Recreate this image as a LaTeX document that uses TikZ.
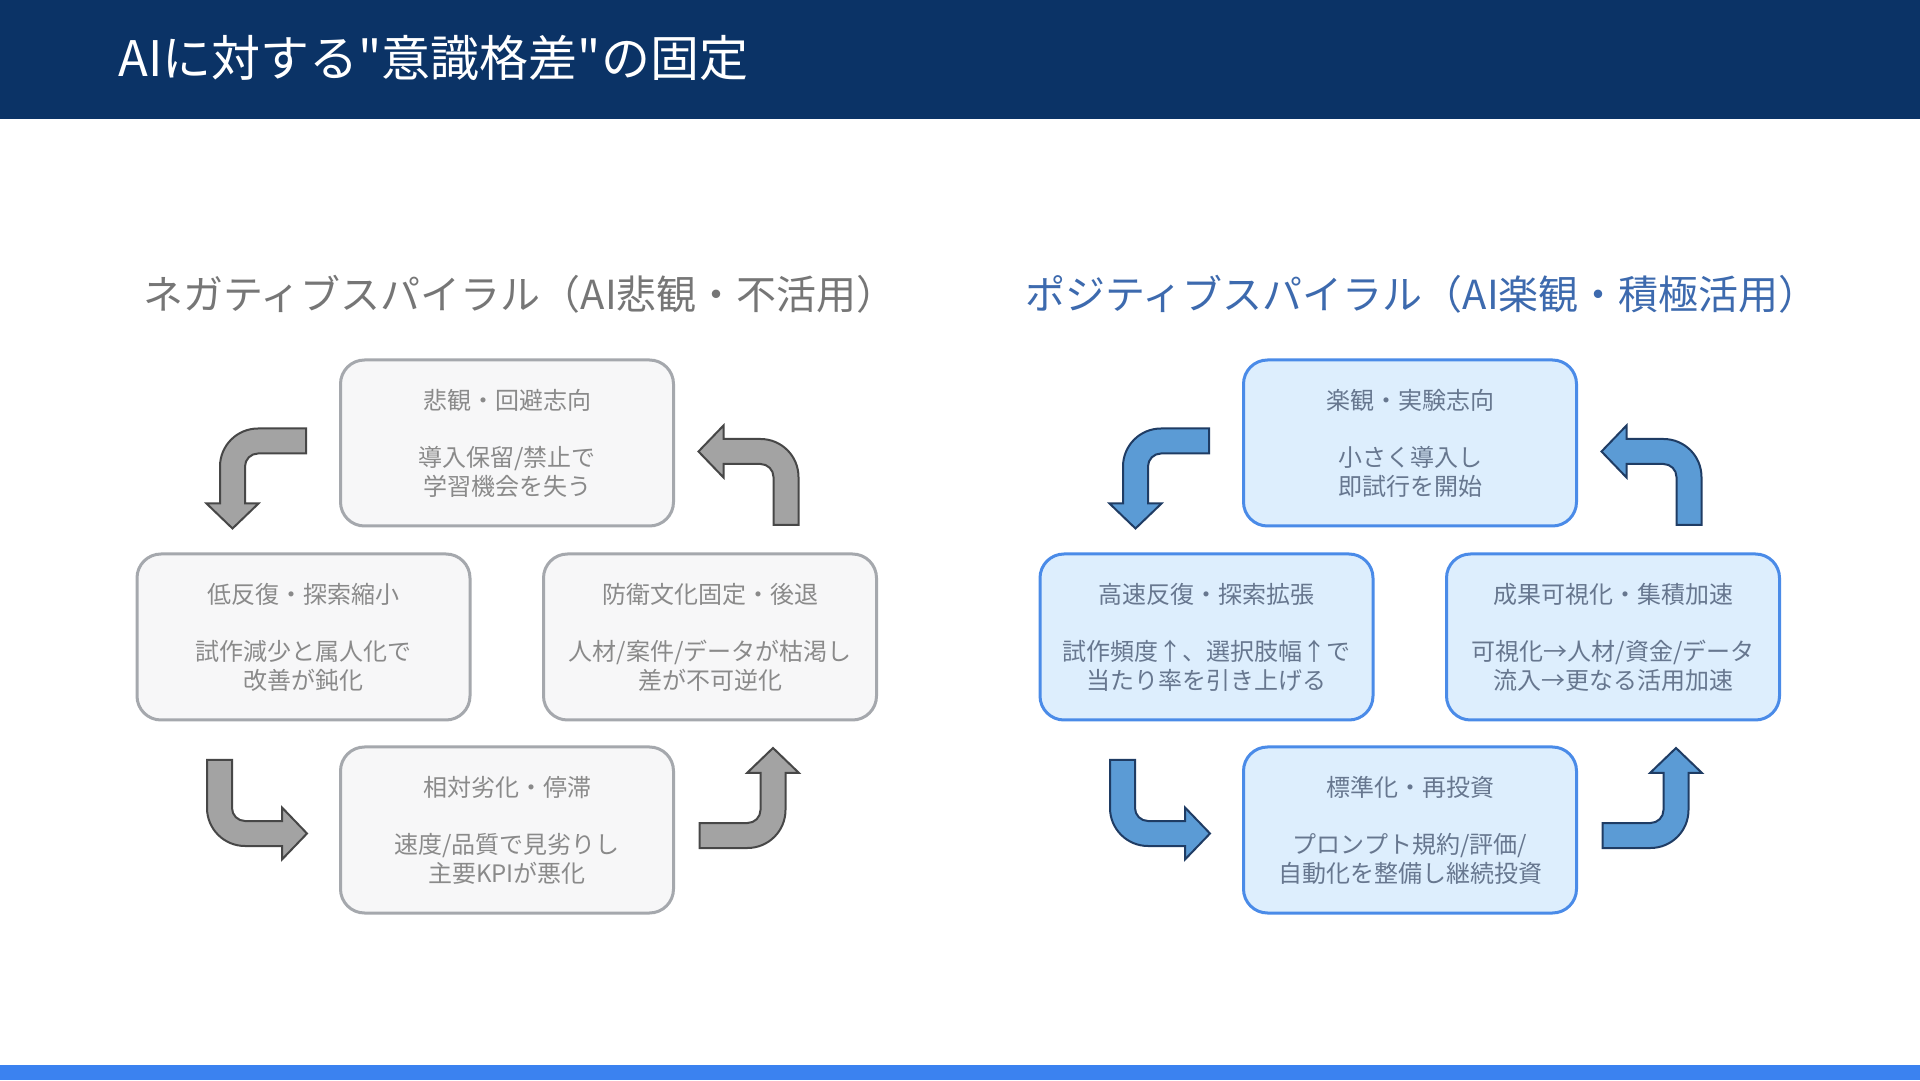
\documentclass[tikz,border=0pt]{standalone}
\usepackage{fontspec}
\setmainfont{Noto Sans CJK JP}
\newfontfamily\titlefont{Noto Sans CJK JP}[Ligatures=TeXOff]
\usetikzlibrary{calc}
\definecolor{headnavy}{HTML}{0B3366}
\definecolor{barblue}{HTML}{3B82F0}
\definecolor{negline}{HTML}{A5A8AD}
\definecolor{negfill}{HTML}{F7F7F8}
\definecolor{negtext}{HTML}{8A8A8A}
\definecolor{neghead}{HTML}{767676}
\definecolor{negarrowfill}{HTML}{A3A3A3}
\definecolor{negarrowline}{HTML}{474747}
\definecolor{posline}{HTML}{4A8BE8}
\definecolor{posfill}{HTML}{DDEEFD}
\definecolor{postext}{HTML}{67778F}
\definecolor{poshead}{HTML}{3D6AAE}
\definecolor{posarrowfill}{HTML}{5B9BD5}
\definecolor{posarrowline}{HTML}{1F3C64}
\tikzset{
  negbox/.style={draw=negline, fill=negfill, line width=3pt, rounded corners=24pt,
    minimum width=333pt, minimum height=166pt, align=center, text=negtext,
    font=\fontsize{24}{28.5}\selectfont},
  posbox/.style={negbox, draw=posline, fill=posfill, text=postext},
  negarrow/.style={fill=negarrowfill, draw=negarrowline, line width=2pt},
  posarrow/.style={fill=posarrowfill, draw=posarrowline, line width=2pt},
  heading/.style={font=\fontsize{40}{46}\selectfont}
}
% bent block arrow: style, centre, rotation
\newcommand{\bentarrow}[3]{%
  \path[#1, shift={#2}, rotate=#3] (50,50) -- (2,50) arc(90:180:38pt) -- (-36,-25)
    -- (-49.5,-25) -- (-23.5,-50) -- (2.5,-25) -- (-11,-25) -- (-11,12)
    arc(180:90:13pt) -- (50,25) -- cycle;}
\begin{document}
\begin{tikzpicture}[x=1pt, y=1pt]
  \useasboundingbox (0,0) rectangle (1920,1080);
  \fill[white] (0,0) rectangle (1920,1080);
  % header and footer bars
  \fill[headnavy] (0,961) rectangle (1920,1080);
  \fill[barblue] (0,0) rectangle (1920,15);
  \node[anchor=west, text=white, font=\titlefont\fontsize{49}{55}\selectfont] (title) at (115,1022)
    {AIに対する"意識格差"の固定};
  % headings
  \node[heading, text=neghead] (neghd) at (520,786) {ネガティブスパイラル（AI悲観・不活用）};
  \node[heading, text=poshead] (poshd) at (1422,786) {ポジティブスパイラル（AI楽観・積極活用）};
  % negative cycle
  \node[negbox] (negtop) at (507,637) {悲観・回避志向\\[29pt]導入保留/禁止で\\学習機会を失う};
  \node[negbox] (negleft) at (303.5,443) {低反復・探索縮小\\[29pt]試作減少と属人化で\\改善が鈍化};
  \node[negbox] (negright) at (710,443) {防衛文化固定・後退\\[29pt]人材/案件/データが枯渇し\\差が不可逆化};
  \node[negbox] (negbot) at (507,250) {相対劣化・停滞\\[29pt]速度/品質で見劣りし\\主要KPIが悪化};
  \bentarrow{negarrow}{($(negtop.west)+(-83,-35.5)$)}{0}
  \bentarrow{negarrow}{($(negbot.west)+(-82,20)$)}{90}
  \bentarrow{negarrow}{($(negbot.east)+(74.5,32)$)}{180}
  \bentarrow{negarrow}{($(negtop.east)+(73.5,-32)$)}{-90}
  % positive cycle
  \node[posbox] (postop) at (1410,637) {楽観・実験志向\\[29pt]小さく導入し\\即試行を開始};
  \node[posbox] (posleft) at (1206.5,443) {高速反復・探索拡張\\[29pt]試作頻度↑、選択肢幅↑で\\当たり率を引き上げる};
  \node[posbox] (posright) at (1613,443) {成果可視化・集積加速\\[29pt]可視化→人材/資金/データ\\流入→更なる活用加速};
  \node[posbox] (posbot) at (1410,250) {標準化・再投資\\[29pt]プロンプト規約/評価/\\自動化を整備し継続投資};
  \bentarrow{posarrow}{($(postop.west)+(-83,-35.5)$)}{0}
  \bentarrow{posarrow}{($(posbot.west)+(-82,20)$)}{90}
  \bentarrow{posarrow}{($(posbot.east)+(74.5,32)$)}{180}
  \bentarrow{posarrow}{($(postop.east)+(73.5,-32)$)}{-90}
\end{tikzpicture}
\end{document}
